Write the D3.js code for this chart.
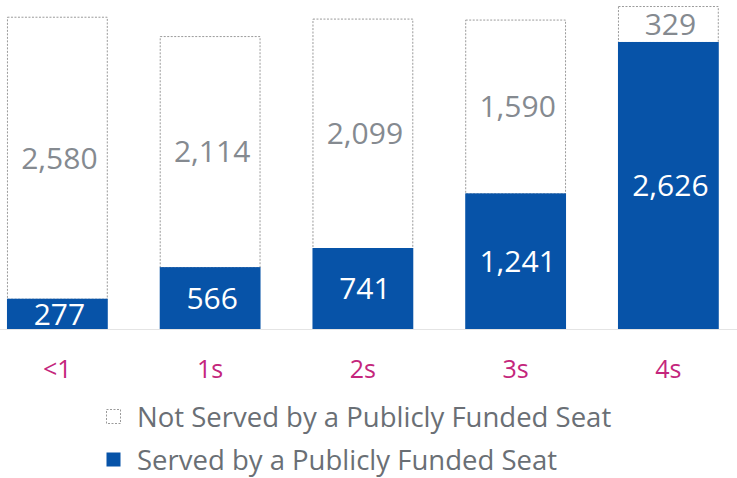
<!DOCTYPE html>
<html>
<head>
<meta charset="utf-8">
<script src="https://cdn.jsdelivr.net/npm/d3@7"></script>
<style>
  html, body { margin: 0; padding: 0; background: #ffffff; }
  svg { display: block; font-family: "Open Sans", "Noto Sans", sans-serif; }
</style>
</head>
<body>
<svg id="chart" width="737" height="478"></svg>
<script>
// Age groups and counts of children by whether a publicly funded seat serves them
const categories = ["<1", "1s", "2s", "3s", "4s"];
const served = [277, 566, 741, 1241, 2626];
const notServed = [2580, 2114, 2099, 1590, 329];
const seriesNames = ["Not Served by a Publicly Funded Seat", "Served by a Publicly Funded Seat"];

const W = 737, H = 478;
const blue = "#0753a8";
const grayText = "#858a90";
const magenta = "#c4267c";

const svg = d3.select("#chart");

const x = d3.scaleBand()
  .domain(categories)
  .range([-19, 744.75])
  .paddingInner(0.34)
  .paddingOuter(0.17);

const y = d3.scaleLinear()
  .domain([0, 3000])
  .range([329, 1.1]);

const fmt = d3.format(",");

const rows = categories.map((c, i) => ({ cat: c, served: served[i], notServed: notServed[i] }));

// faint baseline
svg.append("line")
  .attr("x1", 0).attr("x2", W)
  .attr("y1", y(0) + 0.5).attr("y2", y(0) + 0.5)
  .attr("stroke", "#e4e4e4").attr("stroke-width", 1);

const g = svg.append("g");

// unserved segment: white with dotted gray outline
g.selectAll("rect.not")
  .data(rows).join("rect")
  .attr("class", "not")
  .attr("x", d => x(d.cat) + 0.5)
  .attr("width", x.bandwidth() - 1)
  .attr("y", d => y(d.served + d.notServed) + 0.5)
  .attr("height", d => y(d.served) - y(d.served + d.notServed))
  .attr("fill", "#ffffff")
  .attr("stroke", "#9a9a9a")
  .attr("stroke-width", 1)
  .attr("stroke-dasharray", "2,1.5");

// served segment: solid blue
g.selectAll("rect.served")
  .data(rows).join("rect")
  .attr("class", "served")
  .attr("x", d => x(d.cat))
  .attr("width", x.bandwidth())
  .attr("y", d => y(d.served))
  .attr("height", d => y(0) - y(d.served))
  .attr("fill", blue);

// value labels
g.selectAll("text.notLbl")
  .data(rows).join("text")
  .attr("class", "notLbl")
  .attr("x", d => x(d.cat) + x.bandwidth() / 2 + 2)
  .attr("y", d => (y(d.served + d.notServed) + y(d.served)) / 2)
  .attr("dy", "0.36em")
  .attr("text-anchor", "middle")
  .attr("font-size", 30)
  .attr("fill", grayText)
  .text(d => fmt(d.notServed));

g.selectAll("text.servedLbl")
  .data(rows).join("text")
  .attr("class", "servedLbl")
  .attr("x", d => x(d.cat) + x.bandwidth() / 2 + 2)
  .attr("y", d => (y(d.served) + y(0)) / 2)
  .attr("dy", "0.36em")
  .attr("text-anchor", "middle")
  .attr("font-size", 30)
  .attr("fill", "#ffffff")
  .text(d => fmt(d.served));

// category axis
const xAxis = svg.append("g")
  .attr("transform", `translate(0,${y(0)})`)
  .call(d3.axisBottom(x).tickSize(0).tickPadding(31));
xAxis.select(".domain").remove();
xAxis.selectAll("text")
  .attr("font-size", 25)
  .attr("font-family", "'Open Sans', 'Noto Sans', sans-serif")
  .attr("fill", magenta);

// legend
const legend = svg.append("g");
const legendItems = [
  { name: seriesNames[0], fill: "#ffffff", stroke: "#9a9a9a", dash: "2,1.5", ty: 427 },
  { name: seriesNames[1], fill: blue, stroke: "none", dash: null, ty: 470 }
];
legendItems.forEach(it => {
  legend.append("rect")
    .attr("x", 106.5).attr("y", it.ty - 17.5)
    .attr("width", 14).attr("height", 14)
    .attr("fill", it.fill)
    .attr("stroke", it.stroke)
    .attr("stroke-dasharray", it.dash);
  legend.append("text")
    .attr("x", 137).attr("y", it.ty)
    .attr("font-size", 27.5)
    .attr("fill", "#6a6f75")
    .text(it.name);
});
</script>
</body>
</html>
